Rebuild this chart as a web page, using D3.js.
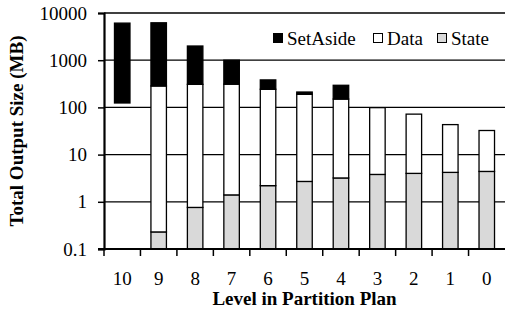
<!DOCTYPE html>
<html>
<head>
<meta charset="utf-8">
<script src="https://cdn.jsdelivr.net/npm/d3@7"></script>
<style>
	body { margin: 0; background: #fff; }
</style>
</head>
<body>
<div id="chart"></div>
<script>
let levels = ['10', '9', '8', '7', '6', '5', '4', '3', '2', '1', '0']
let stateMB = [0, 0.23, 0.76, 1.4, 2.2, 2.7, 3.2, 3.8, 4.0, 4.2, 4.4]
let dataMB = [124, 284, 307, 309, 240, 187, 147, 95, 68, 39, 28]
let setAsideMB = [5980, 5920, 1690, 690, 140, 22, 144, 0, 0, 0, 0]
let yTicks = [0.1, 1, 10, 100, 1000, 10000]
let seriesKeys = ['state', 'data', 'setAside']
let seriesNames = { setAside: 'SetAside', data: 'Data', state: 'State' }
let seriesFill = { setAside: '#000000', data: '#ffffff', state: '#d9d9d9' }

let serif = "'Liberation Serif', 'Times New Roman', Times, 'DejaVu Serif', serif"
let width = 506
let height = 312
let margin = { top: 13, right: 1, bottom: 63, left: 104 }

let rows = levels.map((l, i) => ({
	level: l,
	state: stateMB[i],
	data: dataMB[i],
	setAside: setAsideMB[i]
}))

let svg = d3
	.select('#chart')
	.append('svg')
	.attr('width', width)
	.attr('height', height)
	.style('font-family', serif)

let x = d3
	.scaleBand()
	.domain(levels)
	.range([margin.left, width - margin.right])
	.paddingInner(0.575)
	.paddingOuter(0.2875)

let y = d3
	.scaleLog()
	.domain([0.1, 10000])
	.range([height - margin.bottom, margin.top])

// gridlines
svg
	.append('g')
	.selectAll('line')
	.data(yTicks.slice(1))
	.join('line')
	.attr('x1', margin.left)
	.attr('x2', width - margin.right)
	.attr('y1', d => y(d))
	.attr('y2', d => y(d))
	.attr('stroke', '#000')
	.attr('stroke-width', 1.3)

let stacked = d3.stack().keys(seriesKeys)(rows)

// a segment sitting on zero can't be drawn on a log axis unless it's the base series
stacked.forEach((layer, li) => {
	svg
		.append('g')
		.selectAll('rect')
		.data(layer.filter(d => d[1] > d[0] && (d[0] > 0 || li === 0)))
		.join('rect')
		.attr('x', d => x(d.data.level))
		.attr('width', x.bandwidth())
		.attr('y', d => y(d[1]))
		.attr('height', d => y(Math.max(d[0], 0.1)) - y(d[1]))
		.attr('fill', seriesFill[layer.key])
		.attr('stroke', '#000')
		.attr('stroke-width', 1.3)
})

// y axis
let yAxis = svg
	.append('g')
	.attr('transform', `translate(${margin.left},0)`)
	.call(d3.axisLeft(y).tickValues(yTicks).tickFormat(d3.format('~g')).tickSizeOuter(0).tickSize(6).tickPadding(11))
yAxis.attr('font-family', null).attr('font-size', null)
yAxis.select('.domain').attr('stroke-width', 2.2)
yAxis.selectAll('.tick line').attr('stroke-width', 1.5)
yAxis.selectAll('text').style('font-family', serif).style('font-size', '19px')

// x axis, ticks between categories
let xAxisG = svg.append('g').attr('transform', `translate(0,${height - margin.bottom})`)
xAxisG
	.append('line')
	.attr('x1', margin.left - 6)
	.attr('x2', width - margin.right)
	.attr('stroke', '#000')
	.attr('stroke-width', 2.2)
let step = x.step()
xAxisG
	.selectAll('.sep')
	.data(levels)
	.join('line')
	.attr('x1', (d, i) => margin.left + i * step)
	.attr('x2', (d, i) => margin.left + i * step)
	.attr('y1', 0)
	.attr('y2', 7)
	.attr('stroke', '#000')
	.attr('stroke-width', 1.5)
xAxisG
	.selectAll('text')
	.data(levels)
	.join('text')
	.attr('x', d => x(d) + x.bandwidth() / 2)
	.attr('y', 36)
	.attr('text-anchor', 'middle')
	.style('font-family', serif)
	.style('font-size', '19px')
	.text(d => d)

// axis titles
svg
	.append('text')
	.attr('x', (margin.left + width - margin.right) / 2)
	.attr('y', 305)
	.attr('text-anchor', 'middle')
	.style('font-family', serif)
	.style('font-size', '19px')
	.style('font-weight', 'bold')
	.text('Level in Partition Plan')

svg
	.append('text')
	.attr('transform', 'translate(23,131) rotate(-90)')
	.attr('text-anchor', 'middle')
	.style('font-family', serif)
	.style('font-size', '19px')
	.style('font-weight', 'bold')
	.text('Total Output Size (MB)')

// legend
let legendItems = [
	{ key: 'setAside', x: 273 },
	{ key: 'data', x: 373 },
	{ key: 'state', x: 437 }
]
let legend = svg.append('g')
legendItems.forEach(item => {
	legend
		.append('rect')
		.attr('x', item.x + 0.5)
		.attr('y', 33.5)
		.attr('width', 9)
		.attr('height', 9)
		.attr('fill', seriesFill[item.key])
		.attr('stroke', '#000')
		.attr('stroke-width', 1)
	legend
		.append('text')
		.attr('x', item.x + 14)
		.attr('y', 45)
		.style('font-family', serif)
		.style('font-size', '19px')
		.text(seriesNames[item.key])
})
</script>
</body>
</html>
